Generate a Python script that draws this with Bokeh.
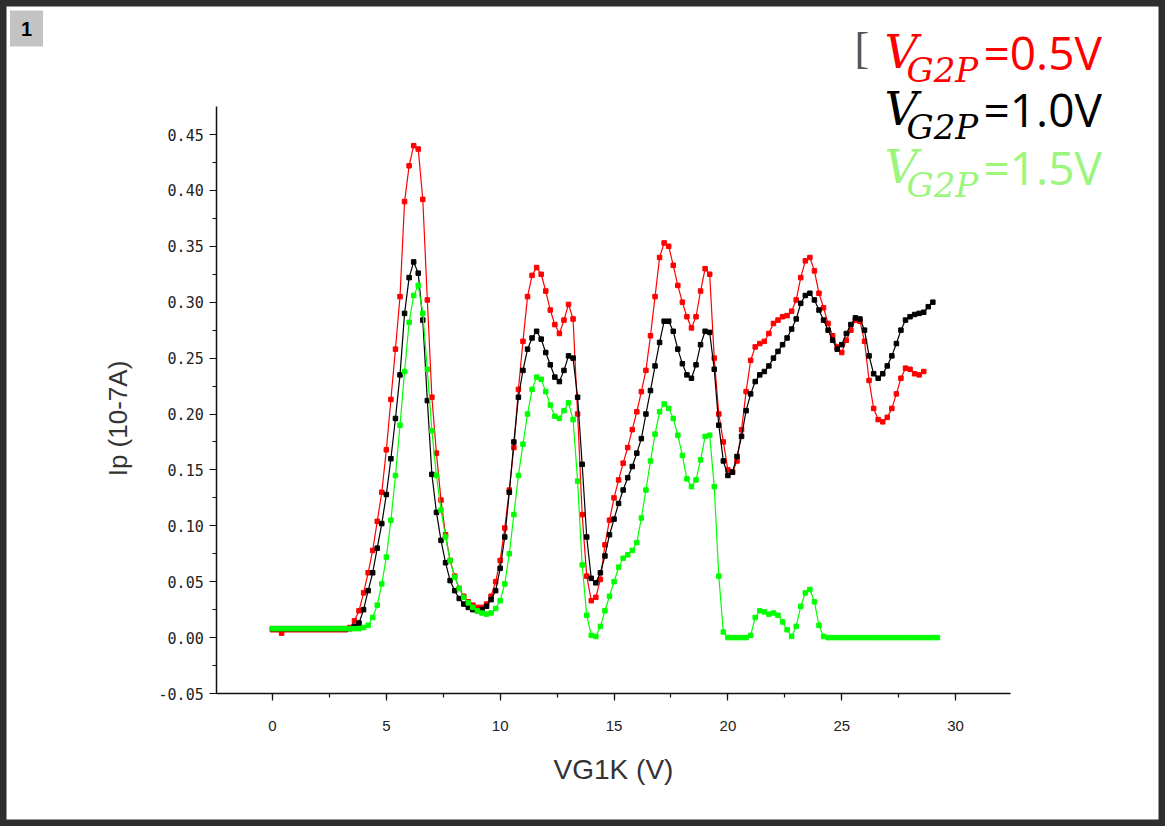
import math
from bokeh.plotting import figure
from bokeh.models import (Range1d, SingleIntervalTicker, NumeralTickFormatter, Label,
                          LinearAxis)
from bokeh.embed import file_html
from bokeh.resources import INLINE

# ---- data ----
step = 0.2
ip_red = [0.007, 0.007, 0.004, 0.007, 0.007, 0.007, 0.007, 0.007, 0.007, 0.007,
          0.007, 0.007, 0.007, 0.007, 0.007, 0.007, 0.007, 0.009, 0.015, 0.024,
          0.040, 0.058, 0.078, 0.104, 0.130, 0.168, 0.213, 0.258, 0.305, 0.390,
          0.422, 0.440, 0.437, 0.392, 0.302, 0.215, 0.165, 0.123, 0.092, 0.069,
          0.055, 0.044, 0.037, 0.032, 0.029, 0.027, 0.027, 0.030, 0.037, 0.050,
          0.069, 0.098, 0.132, 0.170, 0.222, 0.265, 0.305, 0.324, 0.331, 0.325,
          0.310, 0.293, 0.280, 0.272, 0.284, 0.298, 0.285, 0.200, 0.110, 0.055,
          0.033, 0.036, 0.052, 0.083, 0.105, 0.125, 0.141, 0.156, 0.170, 0.186,
          0.202, 0.220, 0.239, 0.270, 0.305, 0.340, 0.353, 0.350, 0.333, 0.315,
          0.300, 0.287, 0.277, 0.287, 0.310, 0.330, 0.325, 0.250, 0.200, 0.175,
          0.150, 0.148, 0.158, 0.186, 0.220, 0.248, 0.260, 0.263, 0.265, 0.272,
          0.281, 0.284, 0.287, 0.288, 0.292, 0.302, 0.322, 0.337, 0.340, 0.328,
          0.308, 0.295, 0.281, 0.270, 0.260, 0.255, 0.266, 0.275, 0.284, 0.283,
          0.265, 0.230, 0.205, 0.195, 0.193, 0.197, 0.205, 0.218, 0.232, 0.241,
          0.240, 0.236, 0.235, 0.238]

ip_black = [0.008, 0.008, 0.008, 0.008, 0.008, 0.008, 0.008, 0.008, 0.008, 0.008,
            0.008, 0.008, 0.008, 0.008, 0.008, 0.008, 0.008, 0.008, 0.010, 0.013,
            0.025, 0.042, 0.058, 0.080, 0.102, 0.128, 0.160, 0.196, 0.235, 0.290,
            0.322, 0.336, 0.326, 0.284, 0.212, 0.146, 0.112, 0.087, 0.067, 0.051,
            0.042, 0.035, 0.030, 0.027, 0.025, 0.024, 0.025, 0.028, 0.034, 0.042,
            0.062, 0.090, 0.130, 0.175, 0.215, 0.239, 0.258, 0.268, 0.274, 0.267,
            0.255, 0.244, 0.233, 0.229, 0.239, 0.252, 0.250, 0.215, 0.155, 0.090,
            0.053, 0.049, 0.058, 0.073, 0.092, 0.106, 0.120, 0.132, 0.143, 0.153,
            0.165, 0.178, 0.200, 0.221, 0.243, 0.264, 0.283, 0.283, 0.274, 0.258,
            0.245, 0.235, 0.232, 0.244, 0.262, 0.274, 0.273, 0.240, 0.190, 0.158,
            0.145, 0.148, 0.162, 0.180, 0.203, 0.218, 0.229, 0.235, 0.238, 0.243,
            0.250, 0.256, 0.262, 0.268, 0.276, 0.285, 0.299, 0.306, 0.308, 0.302,
            0.293, 0.284, 0.275, 0.266, 0.258, 0.262, 0.272, 0.280, 0.286, 0.285,
            0.275, 0.252, 0.236, 0.232, 0.236, 0.243, 0.252, 0.263, 0.275, 0.284,
            0.287, 0.289, 0.290, 0.291, 0.296, 0.300]

ip_green = [0.008, 0.008, 0.008, 0.008, 0.008, 0.008, 0.008, 0.008, 0.008, 0.008,
            0.008, 0.008, 0.008, 0.008, 0.008, 0.008, 0.008, 0.008, 0.008, 0.008,
            0.009, 0.011, 0.018, 0.029, 0.048, 0.072, 0.105, 0.145, 0.190, 0.238,
            0.282, 0.306, 0.315, 0.290, 0.240, 0.185, 0.145, 0.114, 0.090, 0.069,
            0.054, 0.044, 0.036, 0.031, 0.027, 0.024, 0.022, 0.021, 0.022, 0.026,
            0.033, 0.048, 0.075, 0.110, 0.145, 0.173, 0.200, 0.222, 0.233, 0.231,
            0.220, 0.208, 0.198, 0.196, 0.203, 0.210, 0.195, 0.140, 0.065, 0.020,
            0.002, 0.001, 0.010, 0.024, 0.037, 0.050, 0.063, 0.071, 0.074, 0.078,
            0.085, 0.107, 0.132, 0.158, 0.182, 0.202, 0.209, 0.205, 0.196, 0.181,
            0.163, 0.142, 0.135, 0.141, 0.159, 0.180, 0.181, 0.135, 0.055, 0.005,
            0.000, 0.000, 0.000, 0.000, 0.000, 0.002, 0.018, 0.024, 0.023, 0.021,
            0.022, 0.020, 0.014, 0.007, 0.001, 0.010, 0.028, 0.040, 0.043, 0.032,
            0.011, 0.001, 0.000, 0.000, 0.000, 0.000, 0.000, 0.000, 0.000, 0.000,
            0.000, 0.000, 0.000, 0.000, 0.000, 0.000, 0.000, 0.000, 0.000, 0.000,
            0.000, 0.000, 0.000, 0.000, 0.000, 0.000, 0.000]

vg_red = [round(step * i, 1) for i in range(len(ip_red))]
vg_black = [round(step * i, 1) for i in range(len(ip_black))]
vg_green = [round(step * i, 1) for i in range(len(ip_green))]

series_names = ["=0.5V", "=1.0V", "=1.5V"]
x_title = "VG1K (V)"
y_title = "Ip (10-7A)"
x_ticks_interval = 5
y_ticks_interval = 0.05
x_axis_bounds = (-2.45, 32.4)
y_axis_bounds = (-0.05, 0.4747)

# ---- figure: the frame fills the whole canvas, axes sit at fixed locations ----
W, H = 1165, 826
X0_PX, X_SCALE = 272.0, 22.77        # picture px of x=0, px per volt
YB_PX, Y_SCALE = 693.0, 1118.0       # picture px of y=-0.05, px per unit
x_rng = Range1d(-X0_PX / X_SCALE, (W - X0_PX) / X_SCALE)
y_rng = Range1d(-0.05 - (H - YB_PX) / Y_SCALE, -0.05 + YB_PX / Y_SCALE)

p = figure(width=W, height=H, output_backend="svg", toolbar_location=None,
           x_range=x_rng, y_range=y_rng, title=None,
           x_axis_location=None, y_axis_location=None, min_border=0)
p.xgrid.visible = False
p.ygrid.visible = False
p.background_fill_color = "white"
p.border_fill_color = "white"
p.outline_line_color = "#2e2e2e"
p.outline_line_width = 12

for xs, ys, col in [(vg_red, ip_red, "#ff0000"),
                    (vg_black, ip_black, "#000000"),
                    (vg_green, ip_green, "#00ff00")]:
    p.line(xs, ys, line_color=col, line_width=1.2)
    p.scatter(xs, ys, marker="square", size=4.5, fill_color=col, line_color=col)

xaxis = LinearAxis(fixed_location=y_axis_bounds[0], bounds=x_axis_bounds,
                   ticker=SingleIntervalTicker(interval=x_ticks_interval, num_minor_ticks=2),
                   axis_label=x_title)
yaxis = LinearAxis(fixed_location=x_axis_bounds[0], bounds=y_axis_bounds,
                   ticker=SingleIntervalTicker(interval=y_ticks_interval, num_minor_ticks=2),
                   formatter=NumeralTickFormatter(format="0.00"))
for ax in (xaxis, yaxis):
    ax.axis_line_color = "#111111"
    ax.axis_line_width = 1.5
    ax.major_tick_line_color = "#111111"
    ax.minor_tick_line_color = "#111111"
    ax.major_tick_line_width = 1.2
    ax.minor_tick_line_width = 1.2
    ax.major_tick_in = 0
    ax.major_tick_out = 7
    ax.minor_tick_in = 0
    ax.minor_tick_out = 4
    ax.major_label_text_color = "#222222"
    ax.axis_label_text_color = "#333333"
    ax.axis_label_text_font = "Liberation Sans"
    ax.axis_label_text_font_style = "normal"

xaxis.axis_label_text_font_size = "28px"
xaxis.major_label_text_font = "Liberation Sans"
xaxis.major_label_text_font_size = "15px"
xaxis.major_label_standoff = 20
xaxis.axis_label_standoff = 20

yaxis.major_label_text_font = "DejaVu Sans Mono"
yaxis.major_label_text_font_size = "15px"
yaxis.major_label_standoff = 6

p.add_layout(xaxis, "below")
p.add_layout(yaxis, "left")

# Label screen units: x from the frame's left, y up from the frame's bottom
def lx(px):
    return px

def ly(py):
    return H - py

# y-axis title (placed as a rotated label, centred where the reference has it)
p.add_layout(Label(x=lx(117), y=ly(418), x_units="screen", y_units="screen",
                   text=y_title, angle=math.pi / 2, text_align="center",
                   text_baseline="middle", text_font="Liberation Sans",
                   text_font_size="26px", text_color="#333333"))

# ---- window tab "1" ----
p.add_layout(Label(x=lx(26), y=ly(28), x_units="screen", y_units="screen", text="1",
                   text_font="Liberation Sans", text_font_style="bold",
                   text_font_size="20px", text_color="#000000",
                   text_align="center", text_baseline="middle",
                   background_fill_color="#c3c3c3", padding=11))

# ---- legend ----
leg_colors = ["#ff0000", "#000000", "#9cf57c"]
baselines = [72, 129, 187]  # picture y of the text baseline
p.add_layout(Label(x=lx(854), y=ly(68 - 20), x_units="screen", y_units="screen",
                   text="[", text_font="Liberation Serif", text_font_size="44px",
                   text_color="#555555", text_baseline="alphabetic"))
for name, col, b in zip(series_names, leg_colors, baselines):
    p.add_layout(Label(x=lx(884), y=ly(b - 21), x_units="screen", y_units="screen",
                       text="V", text_font="DejaVu Serif", text_font_style="italic",
                       text_font_size="46px", text_color=col,
                       text_baseline="alphabetic"))
    p.add_layout(Label(x=lx(906), y=ly(b + 12 - 15), x_units="screen", y_units="screen",
                       text="G2P", text_font="DejaVu Serif", text_font_style="italic",
                       text_font_size="34px", text_color=col,
                       text_baseline="alphabetic"))
    p.add_layout(Label(x=lx(983), y=ly(b - 21), x_units="screen", y_units="screen",
                       text=name, text_font="Open Sans", text_font_size="46px",
                       text_color=col, text_baseline="alphabetic"))

open("out.html", "w").write(file_html(p, INLINE))
